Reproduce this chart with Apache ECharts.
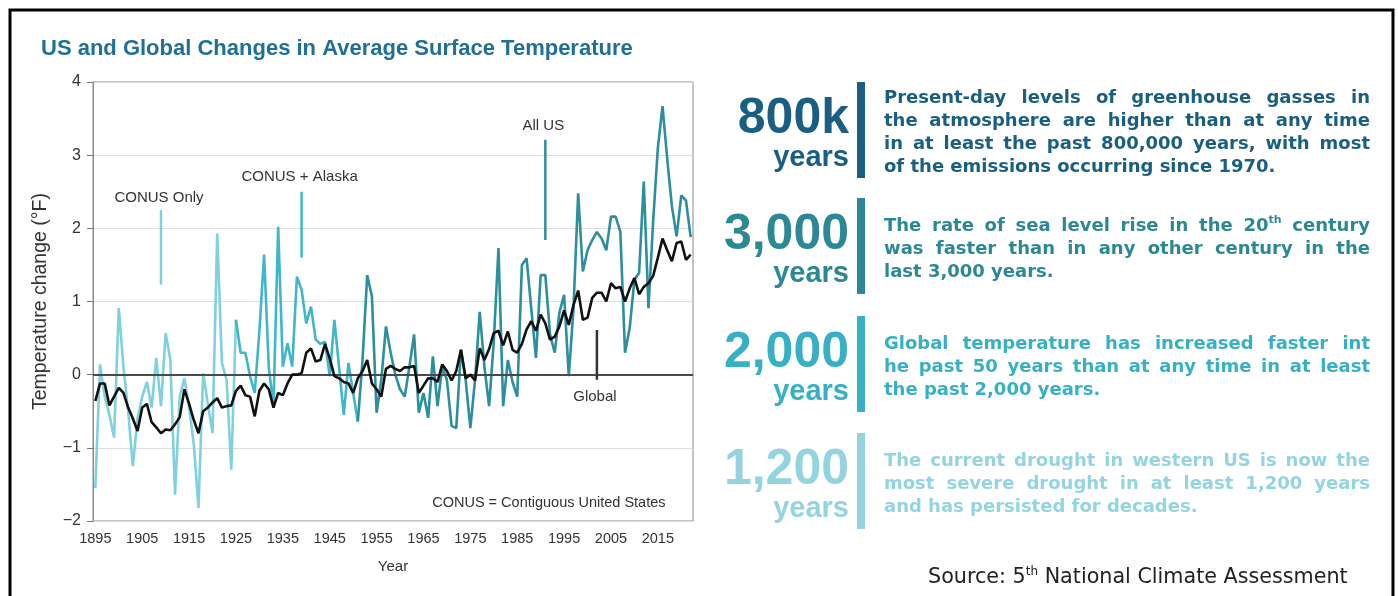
<!DOCTYPE html>
<html>
<head>
<meta charset="utf-8">
<script src="https://cdn.jsdelivr.net/npm/echarts@6/dist/echarts.min.js"></script>
<style>
  html, body { margin: 0; padding: 0; background: #fff; }
  #chart { width: 1398px; height: 596px; }
</style>
</head>
<body>
<div id="chart"></div>
<script>
// ---- data (°F change) ----
const firstYear = 1895
const conusLastYear = 1925
const alaskaLastYear = 1951

const usTemp = [
  -1.55, 0.14, -0.3, -0.55, -0.86, 0.91, 0.1, -0.5, -1.25, -0.6,
  -0.3, -0.1, -0.45, 0.23, -0.43, 0.57, 0.2, -1.64, -0.3, -0.05,
  -0.45, -0.95, -1.82, 0.02, -0.4, -0.8, 1.93, 0.16, -0.07, -1.3,
  0.75, 0.3, 0.3, -0.02, -0.25, 0.6, 1.64, 0.1, -0.43, 2.02,
  0.11, 0.43, 0.11, 1.34, 1.16, 0.7, 0.93, 0.48, 0.42, 0.45,
  -0.02, 0.75, 0.1, -0.55, 0.16, -0.25, -0.64, 0.2, 1.36, 1.07,
  -0.52, -0.07, 0.66, 0.3, 0.0, -0.2, -0.3, 0.11, 0.55, -0.52,
  -0.25, -0.59, 0.25, -0.43, 0.11, -0.07, -0.7, -0.73, 0.34, -0.07,
  -0.73, -0.07, 0.86, 0.11, -0.43, 0.45, 1.73, -0.43, 0.2, -0.1,
  -0.3, 1.5, 1.59, 0.9, 0.23, 1.36, 1.36, 0.55, 0.3, 0.85,
  1.09, -0.02, 0.9, 2.48, 1.41, 1.7, 1.84, 1.95, 1.86, 1.7,
  2.16, 2.16, 1.95, 0.3, 0.64, 1.3, 1.39, 2.64, 0.91, 2.1,
  3.1, 3.67, 2.95, 2.3, 1.89, 2.45, 2.38, 1.88
]

const globalTemp = [
  -0.36, -0.12, -0.12, -0.42, -0.3, -0.18, -0.25, -0.45, -0.6, -0.77,
  -0.45, -0.4, -0.65, -0.72, -0.8, -0.75, -0.76, -0.68, -0.58, -0.2,
  -0.4, -0.62, -0.8, -0.5, -0.45, -0.38, -0.32, -0.45, -0.43, -0.42,
  -0.22, -0.15, -0.28, -0.3, -0.57, -0.22, -0.12, -0.2, -0.45, -0.25,
  -0.28, -0.12, 0.0, 0.0, 0.02, 0.3, 0.36, 0.18, 0.2, 0.42,
  0.22, -0.02, -0.05, -0.1, -0.12, -0.25, -0.05, 0.05, 0.2, -0.12,
  -0.2, -0.3, 0.08, 0.12, 0.08, 0.05, 0.1, 0.1, 0.12, -0.25,
  -0.15, -0.05, -0.05, -0.1, 0.14, 0.05, -0.08, 0.05, 0.34, -0.05,
  0.0, -0.08, 0.36, 0.2, 0.35, 0.57, 0.6, 0.4, 0.59, 0.34,
  0.3, 0.42, 0.62, 0.73, 0.6, 0.82, 0.7, 0.48, 0.52, 0.66,
  0.88, 0.68, 0.95, 1.15, 0.75, 0.78, 1.05, 1.12, 1.12, 1.0,
  1.25, 1.18, 1.2, 1.0, 1.18, 1.32, 1.1, 1.2, 1.25, 1.35,
  1.6, 1.86, 1.7, 1.55, 1.8, 1.82, 1.57, 1.64
]

const years = usTemp.map((_, i) => String(firstYear + i))

// annotation callouts: [text, year, line top, line bottom, label value]
const callouts = [
  ['CONUS Only', 1909, 2.25, 1.23, 2.42],
  ['CONUS + Alaska', 1939, 2.5, 1.6, 2.7],
  ['All US', 1991, 3.21, 1.84, 3.4],
  ['Global', 2002, 0.61, -0.07, -0.3]
]

// right-hand facts
const factNumbers = ['800k', '3,000', '2,000', '1,200']
const factLines = [
  ['Present-day levels of greenhouse gasses in', 'the atmosphere are higher than at any time',
   'in at least the past 800,000 years, with most', 'of the emissions occurring since 1970.'],
  ['The rate of sea level rise in the 20^th century', 'was faster than in any other century in the',
   'last 3,000 years.'],
  ['Global temperature has increased faster int', 'he past 50 years than at any time in at least',
   'the past 2,000 years.'],
  ['The current drought in western US is now the', 'most severe drought in at least 1,200 years',
   'and has persisted for decades.']
]

// ---- styles ----
const cConus = '#80d1dd'
const cAlaska = '#3fb7c9'
const cAllUS = '#2b8f9c'
const factColors = ['#1a5f82', '#2c8893', '#38b0c4', '#93d4df']
const factTops = [82, 198, 316, 433]
const bodyFont = 'DejaVu Sans'
const bodySize = 18
const textLeft = 884
const textRight = 1370

const chart = echarts.init(document.getElementById('chart'))

function segment(from, to) {
  return usTemp.map((v, i) => (firstYear + i >= from && firstYear + i <= to ? v : null))
}

const tickEvery = (i) => i % 10 === 0

chart.setOption({
  animation: false,
  textStyle: { fontFamily: 'Liberation Sans' },
  title: {
    text: 'US and Global Changes in Average Surface Temperature',
    left: 36, top: 33,
    textStyle: { color: '#1f6f97', fontSize: 22, fontWeight: 'bold', fontFamily: 'Liberation Sans' }
  },
  grid: { left: 93, top: 82, width: 600, height: 439, show: true, borderColor: '#8a8a8a', borderWidth: 1 },
  xAxis: {
    type: 'category',
    data: years,
    boundaryGap: true,
    name: 'Year',
    nameLocation: 'middle',
    nameGap: 38,
    nameTextStyle: { color: '#333', fontSize: 15 },
    axisLine: { lineStyle: { color: '#8a8a8a' } },
    axisTick: { alignWithLabel: true, interval: tickEvery, length: 6, lineStyle: { color: '#777' } },
    axisLabel: { interval: tickEvery, color: '#333', fontSize: 14.5, margin: 10 },
    splitLine: { show: false }
  },
  yAxis: {
    type: 'value',
    min: -2, max: 4, interval: 1,
    name: 'Temperature change (°F)',
    nameLocation: 'middle',
    nameGap: 42,
    nameTextStyle: { color: '#333', fontSize: 19.5, padding: [0, 0, 0, 0] },
    axisLine: { show: true, lineStyle: { color: '#8a8a8a' } },
    axisTick: { show: true, length: 6, lineStyle: { color: '#777' } },
    axisLabel: { color: '#333', fontSize: 16, margin: 12, formatter: (v) => (v < 0 ? '\u2212' + Math.abs(v) : String(v)) },
    splitLine: { lineStyle: { color: '#dedede', width: 1 } }
  },
  series: [
    {
      name: 'CONUS Only', type: 'line', data: segment(firstYear, conusLastYear),
      symbol: 'none', lineStyle: { width: 2.6, color: cConus }, itemStyle: { color: cConus }, z: 2,
      markLine: {
        silent: true, symbol: ['none', 'none'], label: { show: false },
        lineStyle: { color: '#4a4a4a', width: 1.8, type: 'solid' }, data: [{ yAxis: 0 }]
      }
    },
    {
      name: 'CONUS + Alaska', type: 'line', data: segment(conusLastYear, alaskaLastYear),
      symbol: 'none', lineStyle: { width: 2.6, color: cAlaska }, itemStyle: { color: cAlaska }, z: 3
    },
    {
      name: 'All US', type: 'line', data: segment(alaskaLastYear, 2100),
      symbol: 'none', lineStyle: { width: 2.6, color: cAllUS }, itemStyle: { color: cAllUS }, z: 3
    },
    {
      name: 'Global', type: 'line', data: globalTemp,
      symbol: 'none', lineStyle: { width: 2.6, color: '#111' }, itemStyle: { color: '#111' }, z: 5
    }
  ]
})

// ---- overlay: callouts, fact panel, frame ----
const measureCtx = document.createElement('canvas').getContext('2d')

function measure(str, size, weight) {
  measureCtx.font = weight + ' ' + size + 'px "' + bodyFont + '"'
  return measureCtx.measureText(str).width
}

function wordParts(word) {
  const k = word.indexOf('^')
  return k < 0 ? { base: word, sup: '' } : { base: word.slice(0, k), sup: word.slice(k + 1) }
}

function wordWidth(word) {
  const p = wordParts(word)
  return measure(p.base, bodySize, 'bold') + (p.sup ? measure(p.sup, 11, 'bold') : 0)
}

const graphics = []
const calloutFont = { fill: '#333', fontSize: 15, fontFamily: 'Liberation Sans' }

callouts.forEach(([text, year, top, bottom, labelAt]) => {
  const idx = year - firstYear
  const p1 = chart.convertToPixel({ gridIndex: 0 }, [idx, top])
  const p2 = chart.convertToPixel({ gridIndex: 0 }, [idx, bottom])
  const pl = chart.convertToPixel({ gridIndex: 0 }, [idx, labelAt])
  const col = text === 'Global' ? '#333' : text === 'All US' ? cAllUS : text === 'CONUS Only' ? cConus : cAlaska
  graphics.push({ type: 'line', shape: { x1: p1[0], y1: p1[1], x2: p2[0], y2: p2[1] }, style: { stroke: col, lineWidth: 2.5 }, z: 10 })
  graphics.push({ type: 'text', x: pl[0] - 2, y: pl[1], style: Object.assign({ text, align: 'center', verticalAlign: 'middle' }, calloutFont), z: 10 })
})

{
  const p = chart.convertToPixel({ gridIndex: 0 }, [2016 - firstYear, -1.75])
  graphics.push({ type: 'text', x: p[0] + 3, y: p[1], style: Object.assign({ text: 'CONUS = Contiguous United States', align: 'right', verticalAlign: 'middle' }, calloutFont, { fontSize: 14.5 }), z: 10 })
}

factNumbers.forEach((num, b) => {
  const top = factTops[b]
  const color = factColors[b]
  graphics.push({ type: 'text', x: 849, y: top + 37, style: { text: num, fill: color, fontSize: 50, fontWeight: 'bold', fontFamily: 'Liberation Sans', align: 'right', verticalAlign: 'middle' } })
  graphics.push({ type: 'text', x: 849, y: top + 76, style: { text: 'years', fill: color, fontSize: 29, fontWeight: 'bold', fontFamily: 'Liberation Sans', align: 'right', verticalAlign: 'middle' } })
  graphics.push({ type: 'rect', shape: { x: 857, y: top, width: 8, height: 96 }, style: { fill: color } })

  const lines = factLines[b]
  const firstY = top + (lines.length === 4 ? 16 : 28)
  lines.forEach((line, li) => {
    const words = line.split(' ')
    const widths = words.map(wordWidth)
    const total = widths.reduce((s, w) => s + w, 0)
    const spaceW = measure(' ', bodySize, 'bold')
    const last = li === lines.length - 1
    let gap = last || words.length < 2 ? spaceW : (textRight - textLeft - total) / (words.length - 1)
    if (gap < spaceW * 0.4) gap = spaceW * 0.4
    let x = textLeft
    const y = firstY + li * 23
    words.forEach((w, wi) => {
      const p = wordParts(w)
      const txt = p.sup ? '{n|' + p.base + '}{s|' + p.sup + '}' : '{n|' + p.base + '}'
      graphics.push({
        type: 'text', x, y,
        style: {
          text: txt, align: 'left', verticalAlign: 'middle',
          rich: {
            n: { fill: color, fontSize: bodySize, fontWeight: 'bold', fontFamily: bodyFont, lineHeight: 22 },
            s: { fill: color, fontSize: 11, fontWeight: 'bold', fontFamily: bodyFont, lineHeight: 22, verticalAlign: 'top', padding: [0, 0, 10, 0] }
          }
        }
      })
      x += widths[wi] + gap
    })
  })
})

graphics.push({
  type: 'text', x: 928, y: 578,
  style: {
    text: '{a|Source: 5}{s|th}{a| National Climate Assessment}', align: 'left', verticalAlign: 'middle',
    rich: {
      a: { fill: '#222', fontSize: 20.7, fontFamily: 'DejaVu Sans', lineHeight: 24 },
      s: { fill: '#222', fontSize: 12, fontFamily: 'DejaVu Sans', lineHeight: 24, verticalAlign: 'top', padding: [0, 0, 10, 0] }
    }
  }
})

graphics.push({ type: 'rect', shape: { x: 10, y: 10, width: 1383, height: 620 }, style: { fill: 'none', stroke: '#000', lineWidth: 3 }, z: 20 })

chart.setOption({ graphic: graphics })
</script>
</body>
</html>
